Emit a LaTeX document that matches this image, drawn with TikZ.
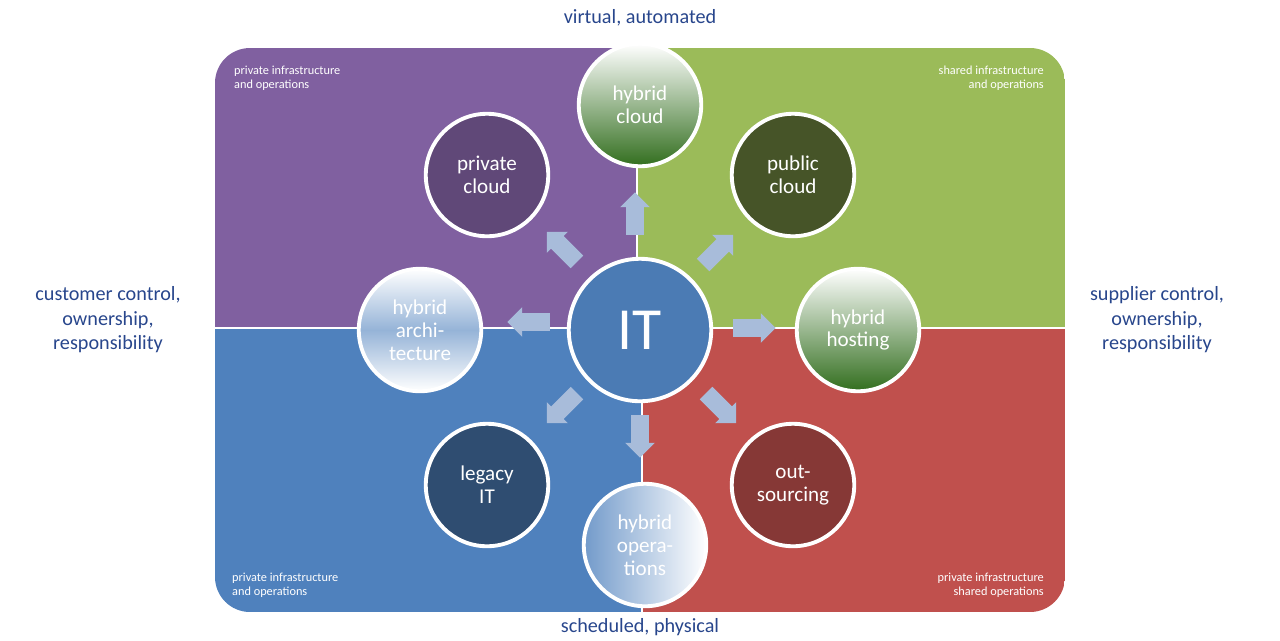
\documentclass[tikz,border=0pt]{standalone}
\usepackage{fontspec}
\setmainfont{Carlito}
\usetikzlibrary{shapes.arrows}
\definecolor{qpurple}{RGB}{128,96,160}
\definecolor{qgreen}{RGB}{155,187,89}
\definecolor{qblue}{RGB}{79,129,189}
\definecolor{qred}{RGB}{192,80,77}
\definecolor{hgreen}{RGB}{50,110,30}
\definecolor{labelblue}{RGB}{40,70,140}
\definecolor{arrowgrey}{RGB}{168,188,218}

\tikzset{
  ring/.style={circle, draw=white, line width=2.2pt, minimum size=2.45cm,
    text=white, align=center, font=\fontsize{12}{13}\selectfont},
  blockarrow/.style={single arrow, fill=arrowgrey, draw=none,
    minimum height=0.85cm, single arrow head extend=0.12cm,
    inner sep=0.17cm},
  outer/.style={text=labelblue, align=center, font=\fontsize{11.5}{14}\selectfont},
  corner/.style={text=white, font=\fontsize{7}{8}\selectfont}
}

\begin{document}
\begin{tikzpicture}[x=0.02cm, y=-0.02cm]
    \useasboundingbox (0,0) rectangle (1280,640);
    % quadrants inside the rounded frame
    \begin{scope}
      \clip[rounded corners=0.7cm] (215,48) rectangle (1065,612);
      \fill[qpurple] (215,48) rectangle (637,328);
      \fill[qgreen] (637,48) rectangle (1065,328);
      \fill[qblue] (215,328) rectangle (642,612);
      \fill[qred] (642,328) rectangle (1065,612);
      \draw[white, line width=1.6pt] (637,48) -- (637,328) -- (642,328) -- (642,612);
      \draw[white, line width=1.6pt] (215,328) -- (1065,328);
    \end{scope}

    % corner labels
    \node[corner, anchor=north west, align=left] (cTL) at (228,60) {private infrastructure\\and operations};
    \node[corner, anchor=north east, align=right] (cTR) at (1050,60) {shared infrastructure\\and operations};
    \node[corner, anchor=south west, align=left] (cBL) at (226,604) {private infrastructure\\and operations};
    \node[corner, anchor=south east, align=right] (cBR) at (1050,604) {private infrastructure\\shared operations};

    % outer labels
    \node[outer] (top) at (640,18) {virtual, automated};
    \node[outer] (bottom) at (640,627) {scheduled, physical};
    \node[outer] (left) at (108,320) {customer control,\\ownership,\\responsibility};
    \node[outer] (right) at (1157,320) {supplier control,\\ownership,\\responsibility};

    % centre and satellites
    \node[ring, fill=qblue!95!black, minimum size=2.85cm, font=\fontsize{34}{34}\selectfont] (it) at (640,330) {IT};
    \node[ring, top color=white, bottom color=hgreen] (hcloud) at (640,105) {hybrid\\cloud};
    \node[ring, fill=qpurple!75!black] (pcloud) at (487,175) {private\\cloud};
    \node[ring, fill=qgreen!45!black] (pubcloud) at (793,175) {public\\cloud};
    \node[ring, top color=white, bottom color=white, middle color=qblue!60] (harch) at (420,330) {hybrid\\archi-\\tecture};
    \node[ring, top color=white, bottom color=hgreen] (hhost) at (858,330) {hybrid\\hosting};
    \node[ring, fill=qblue!60!black] (legacy) at (487,485) {legacy\\IT};
    \node[ring, fill=qred!70!black] (outsrc) at (793,485) {out-\\sourcing};
    \node[ring, left color=qblue!80, right color=white] (hops) at (645,545) {hybrid\\opera-\\tions};

    % arrows out of the centre
    \node[blockarrow, rotate=90] (aN) at (635,218) {};
    \node[blockarrow, rotate=-90] (aS) at (640,432) {};
    \node[blockarrow, rotate=180] (aW) at (533,322) {};
    \node[blockarrow] (aE) at (750,328) {};
    \node[blockarrow, rotate=135] (aNW) at (565,250) {};
    \node[blockarrow, rotate=45] (aNE) at (715,253) {};
    \node[blockarrow, rotate=-135] (aSW) at (565,405) {};
    \node[blockarrow, rotate=-45] (aSE) at (718,405) {};
\end{tikzpicture}
\end{document}
